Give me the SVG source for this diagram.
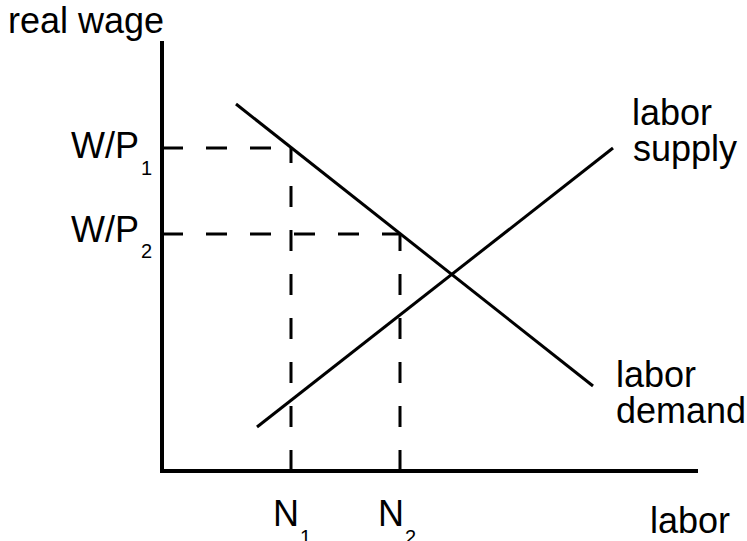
<svg xmlns="http://www.w3.org/2000/svg" width="747" height="541" viewBox="0 0 747 541">
<style>
text{font-family:"Liberation Sans",Arial,sans-serif;fill:#000}
.lbl{font-size:36px}
.sub{font-size:20px}
.axis{stroke:#000;stroke-width:4;fill:none}
.curve{stroke:#000;stroke-width:3;fill:none}
.dash{stroke:#000;stroke-width:3;fill:none;stroke-dasharray:21 23}
</style>
<rect width="747" height="541" fill="#fff"/>
<g id="axes">
<path class="axis" d="M162,41 V471 M160,471 H698"/>
</g>
<g id="connectors">
<path class="dash" d="M162,148 H291"/>
<path class="dash" d="M162,234 H400"/>
<path class="dash" d="M291,471 V148"/>
<path class="dash" d="M400,471 V234"/>
</g>
<g id="labor-demand">
<line class="curve" x1="236" y1="104" x2="593" y2="386"/>
<text class="lbl" x="616" y="387">labor</text>
<text class="lbl" x="616" y="423">demand</text>
</g>
<g id="labor-supply">
<line class="curve" x1="257" y1="427" x2="613" y2="148"/>
<text class="lbl" x="632" y="125">labor</text>
<text class="lbl" x="633" y="161">supply</text>
</g>
<g id="y-label"><text class="lbl" x="8" y="33">real wage</text></g>
<g id="x-label"><text class="lbl" x="650" y="533">labor</text></g>
<g id="wp1"><text class="lbl" x="71" y="158">W/P</text><text class="sub" x="141" y="175">1</text></g>
<g id="wp2"><text class="lbl" x="71" y="242">W/P</text><text class="sub" x="141" y="258">2</text></g>
<g id="n1"><text class="lbl" x="273" y="526">N</text><text class="sub" x="300" y="544">1</text></g>
<g id="n2"><text class="lbl" x="378" y="526">N</text><text class="sub" x="405" y="544">2</text></g>
</svg>
